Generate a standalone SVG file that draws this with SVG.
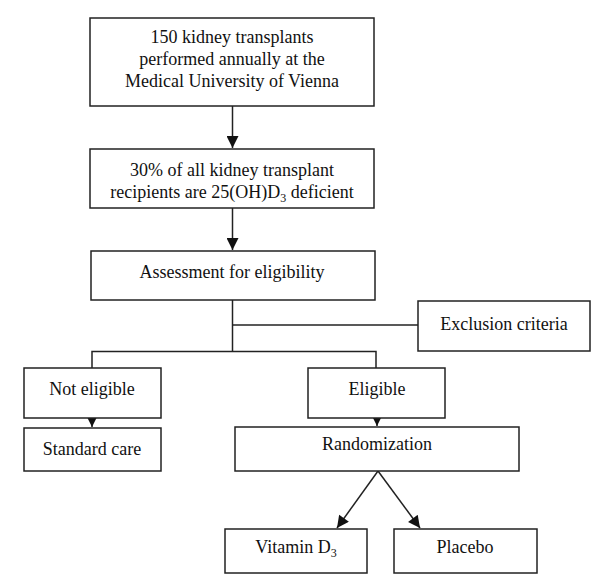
<svg xmlns="http://www.w3.org/2000/svg" width="600" height="587" viewBox="0 0 600 587">
<style>
.box{fill:#fff;stroke:#222;stroke-width:1.5}
.t{font-family:'Liberation Serif','DejaVu Serif',serif;font-size:18px;fill:#111;text-anchor:middle}
.c{fill:none;stroke:#222;stroke-width:1.5}
</style>
<defs>
<marker id="ahb" viewBox="0 0 10 10" refX="10" refY="5" markerWidth="13" markerHeight="12" markerUnits="userSpaceOnUse" orient="auto">
<path d="M0,0 L10,5 L0,10 Z" fill="#111"/>
</marker>
</defs>
<rect width="600" height="587" fill="#fff"/>
<g id="connectors">
<line class="c" x1="232.5" y1="106" x2="232.5" y2="148" marker-end="url(#ahb)"/>
<line class="c" x1="232.5" y1="208" x2="232.5" y2="250" marker-end="url(#ahb)"/>
<polyline class="c" points="232.5,300 232.5,351.5"/>
<line class="c" x1="232.5" y1="325" x2="418" y2="325"/>
<polyline class="c" points="92,368 92,351.5 376,351.5 376,368"/>
<line class="c" x1="92" y1="418" x2="92" y2="427" marker-end="url(#ahb)"/>
<line class="c" x1="377" y1="418" x2="377" y2="426" marker-end="url(#ahb)"/>
<line class="c" x1="378" y1="471" x2="337" y2="528" marker-end="url(#ahb)"/>
<line class="c" x1="378" y1="471" x2="420" y2="528" marker-end="url(#ahb)"/>
</g>
<g id="n1"><rect class="box" x="90" y="18" width="284" height="88"/>
<text class="t" x="232" y="43" font-family="Liberation Serif">150 kidney transplants</text>
<text class="t" x="232" y="65">performed annually at the</text>
<text class="t" x="232" y="87">Medical University of Vienna</text></g>
<g id="n2"><rect class="box" x="90" y="149" width="284" height="59"/>
<text class="t" x="232" y="176">30% of all kidney transplant</text>
<text class="t" x="232" y="198">recipients are 25(OH)D<tspan font-size="12" dy="4">3</tspan><tspan dy="-4"> deficient</tspan></text></g>
<g id="n3"><rect class="box" x="91" y="251" width="284" height="49"/>
<text class="t" x="232" y="278">Assessment for eligibility</text></g>
<g id="n4"><rect class="box" x="418" y="301" width="172" height="50"/>
<text class="t" x="504" y="330">Exclusion criteria</text></g>
<g id="n5"><rect class="box" x="24" y="368" width="137" height="50"/>
<text class="t" x="92" y="395">Not eligible</text></g>
<g id="n6"><rect class="box" x="308" y="368" width="137" height="50"/>
<text class="t" x="377" y="395">Eligible</text></g>
<g id="n7"><rect class="box" x="24" y="428" width="137" height="43"/>
<text class="t" x="92" y="455">Standard care</text></g>
<g id="n8"><rect class="box" x="235" y="427" width="284" height="44"/>
<text class="t" x="377" y="450">Randomization</text></g>
<g id="n9"><rect class="box" x="225" y="529" width="142" height="44"/>
<text class="t" x="296" y="553">Vitamin D<tspan font-size="12" dy="4">3</tspan></text></g>
<g id="n10"><rect class="box" x="394" y="529" width="143" height="44"/>
<text class="t" x="465" y="553">Placebo</text></g>
</svg>
